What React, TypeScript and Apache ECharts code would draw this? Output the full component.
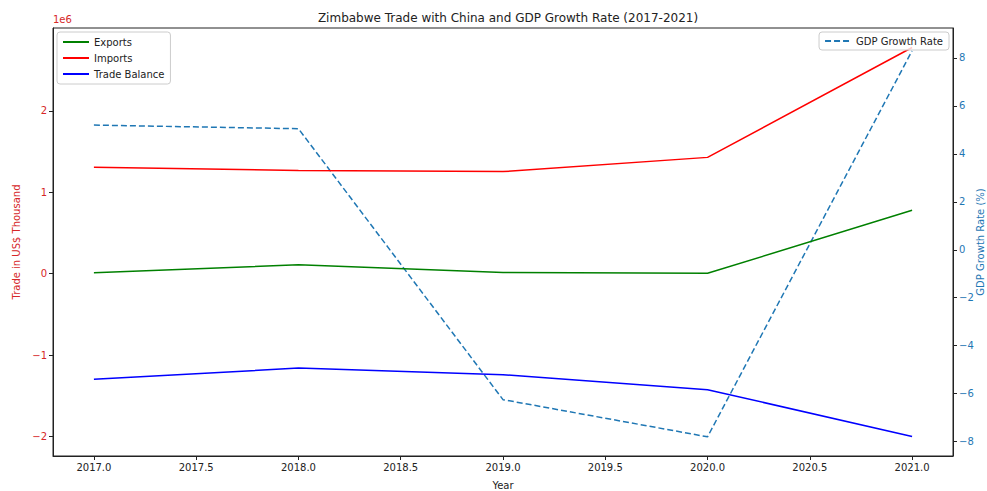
import React, { useEffect, useRef } from "react";
import * as echarts from "echarts";

const years = [2017, 2018, 2019, 2020, 2021];
const exportsVals = [12000, 110000, 15000, 5000, 780000];
const importsVals = [1310000, 1270000, 1255000, 1430000, 2780000];
const balanceVals = [-1298000, -1160000, -1240000, -1425000, -2000000];
const gdpVals = [5.2, 5.05, -6.25, -7.8, 8.3];

const xTicks = [2017, 2017.5, 2018, 2018.5, 2019, 2019.5, 2020, 2020.5, 2021];
const leftTicks = [-2000000, -1000000, 0, 1000000, 2000000];
const rightTicks = [-8, -6, -4, -2, 0, 2, 4, 6, 8];

const FONT = "DejaVu Sans";
const RED = "#d62728";
const BLUE = "#1f77b4";

const pair = (vals: number[]) => years.map((y, i) => [y, vals[i]]);
const minus = (s: string) => s.replace("-", "\u2212");

export default function App() {
  const ref = useRef<HTMLDivElement>(null);
  useEffect(() => {
    if (!ref.current) return;
    const chart = echarts.init(ref.current, undefined, { renderer: "svg" });
    const legendCommon = {
      orient: "vertical",
      itemWidth: 26,
      itemHeight: 10,
      borderColor: "#ccc",
      borderWidth: 1,
      borderRadius: 3,
      backgroundColor: "rgba(255,255,255,0.8)",
      itemStyle: { opacity: 0 },
      textStyle: { fontFamily: FONT, fontSize: 10, color: "#222" },
    };
    chart.setOption({
      animation: false,
      backgroundColor: "#fff",
      textStyle: { fontFamily: FONT },
      title: {
        text: "Zimbabwe Trade with China and GDP Growth Rate (2017-2021)",
        left: 503,
        textAlign: "center",
        top: 7,
        textStyle: { fontFamily: FONT, fontSize: 12, fontWeight: "normal", color: "#222" },
      },
      grid: {
        left: 53,
        right: 34,
        top: 28,
        bottom: 35,
        outerBoundsMode: "none",
        containLabel: false,
        show: true,
        borderColor: "#222",
        borderWidth: 1,
        backgroundColor: "transparent",
      },
      legend: [
        {
          ...legendCommon,
          data: ["Exports", "Imports", "Trade Balance"],
          left: 57,
          top: 32,
          itemGap: 6,
          padding: [5, 6, 5, 5],
        },
        {
          ...legendCommon,
          data: ["GDP Growth Rate"],
          right: 38,
          top: 32,
          padding: [4, 6, 4, 5],
        },
      ],
      xAxis: {
        type: "value",
        min: 2016.8,
        max: 2021.2,
        name: "Year",
        nameLocation: "middle",
        nameGap: 24,
        nameMoveOverlap: false,
        nameTextStyle: { fontFamily: FONT, fontSize: 10, color: "#222" },
        splitLine: { show: false },
        axisLine: { show: true, onZero: false, lineStyle: { color: "#222" } },
        axisTick: { show: true, length: 4, customValues: xTicks, lineStyle: { color: "#222" } },
        axisLabel: {
          customValues: xTicks,
          formatter: (v: number) => v.toFixed(1),
          fontFamily: FONT,
          fontSize: 10,
          color: "#222",
          margin: 6,
        },
      },
      yAxis: [
        {
          type: "value",
          position: "left",
          min: -2240000,
          max: 3020000,
          name: "Trade in US$ Thousand",
          nameLocation: "middle",
          nameRotate: 90,
          nameGap: 32,
          nameMoveOverlap: false,
          nameTextStyle: { fontFamily: FONT, fontSize: 10, color: RED },
          splitLine: { show: false },
          axisLine: { show: true, onZero: false, lineStyle: { color: "#222" } },
          axisTick: { show: true, length: 4, customValues: leftTicks, lineStyle: { color: "#222" } },
          axisLabel: {
            customValues: leftTicks,
            formatter: (v: number) => minus(String(Math.round(v / 1e6))),
            fontFamily: FONT,
            fontSize: 10,
            color: RED,
            margin: 6,
          },
        },
        {
          type: "value",
          position: "right",
          min: -8.6,
          max: 9.25,
          name: "GDP Growth Rate (%)",
          nameLocation: "middle",
          nameRotate: 90,
          nameGap: 22,
          nameMoveOverlap: false,
          nameTextStyle: { fontFamily: FONT, fontSize: 10, color: BLUE },
          splitLine: { show: false },
          axisLine: { show: true, onZero: false, lineStyle: { color: "#222" } },
          axisTick: { show: true, length: 4, customValues: rightTicks, lineStyle: { color: "#222" } },
          axisLabel: {
            customValues: rightTicks,
            formatter: (v: number) => minus(String(v)),
            fontFamily: FONT,
            fontSize: 10,
            color: BLUE,
            margin: 6,
          },
        },
      ],
      graphic: [
        {
          type: "text",
          left: 53,
          top: 14,
          style: { text: "1e6", fontFamily: FONT, fontSize: 10, fill: RED },
        },
      ],
      series: [
        {
          name: "Exports",
          type: "line",
          data: pair(exportsVals),
          symbol: "none",
          color: "#008000",
          lineStyle: { width: 1.5, color: "#008000" },
          z: 3,
        },
        {
          name: "Imports",
          type: "line",
          data: pair(importsVals),
          symbol: "none",
          color: "#ff0000",
          lineStyle: { width: 1.5, color: "#ff0000" },
          z: 3,
        },
        {
          name: "Trade Balance",
          type: "line",
          data: pair(balanceVals),
          symbol: "none",
          color: "#0000ff",
          lineStyle: { width: 1.5, color: "#0000ff" },
          z: 3,
        },
        {
          name: "GDP Growth Rate",
          type: "line",
          yAxisIndex: 1,
          data: pair(gdpVals),
          symbol: "none",
          color: BLUE,
          lineStyle: { width: 1.5, color: BLUE, type: [6, 3] },
          z: 2,
        },
      ],
    });
    return () => chart.dispose();
  }, []);
  return <div ref={ref} style={{ width: 987, height: 491, position: "absolute", left: 0, top: 0 }} />;
}
